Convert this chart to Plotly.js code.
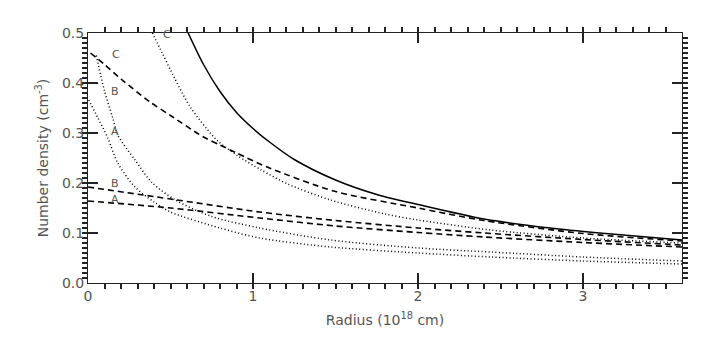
<!DOCTYPE html>
<html>
<head>
<meta charset="utf-8">
<script src="https://cdn.plot.ly/plotly-3.0.1.min.js"></script>
<style>html,body{margin:0;padding:0;background:#fff;}#chart{width:708px;height:340px;}</style>
</head>
<body>
<div id="chart"></div>
<script>
// Solid curve
const solidX = [0.6, 0.7, 0.8, 0.9, 1.0, 1.1, 1.25, 1.5, 1.75, 2.0, 2.4, 2.8, 3.1, 3.6];
const solidY = [0.505, 0.437, 0.383, 0.341, 0.309, 0.282, 0.247, 0.206, 0.177, 0.157, 0.128, 0.11, 0.1, 0.086];

// Dotted curves
const dotCX = [0.39, 0.45, 0.5, 0.62, 0.78, 0.9, 1.05, 1.21, 1.47, 1.8, 2.0, 2.44, 3.0, 3.6];
const dotCY = [0.5, 0.46, 0.426, 0.352, 0.286, 0.256, 0.226, 0.198, 0.166, 0.138, 0.126, 0.106, 0.09, 0.08];

const dotBX = [0.05, 0.1, 0.15, 0.18, 0.285, 0.39, 0.53, 0.75, 1.04, 1.47, 2.0, 2.44, 3.0, 3.6];
const dotBY = [0.455, 0.384, 0.33, 0.296, 0.246, 0.2, 0.166, 0.133, 0.11, 0.086, 0.07, 0.062, 0.052, 0.044];

const dotAX = [0.005, 0.06, 0.12, 0.18, 0.285, 0.4, 0.5, 0.8, 1.04, 1.47, 2.0, 2.44, 3.0, 3.6];
const dotAY = [0.366, 0.33, 0.29, 0.24, 0.192, 0.162, 0.142, 0.11, 0.09, 0.072, 0.06, 0.052, 0.044, 0.038];

// Dashed curves
const dashCX = [0.015, 0.1, 0.2, 0.376, 0.5, 0.7, 0.8, 0.9, 1.1, 1.5, 2.0, 2.4, 3.0, 3.6];
const dashCY = [0.46, 0.437, 0.408, 0.362, 0.335, 0.292, 0.276, 0.26, 0.23, 0.183, 0.15, 0.125, 0.099, 0.084];

const dashBX = [0.0, 0.5, 1.04, 1.5, 2.0, 2.4, 3.0, 3.6];
const dashBY = [0.192, 0.168, 0.142, 0.125, 0.11, 0.1, 0.087, 0.076];

const dashAX = [0.0, 0.5, 1.04, 1.5, 2.0, 2.4, 3.0, 3.6];
const dashAY = [0.164, 0.15, 0.13, 0.114, 0.101, 0.092, 0.081, 0.072];

// Curve labels
const labelText = ["C", "C", "B", "A", "B", "A"];
const labelX = [0.445, 0.135, 0.13, 0.125, 0.13, 0.13];
const labelY = [0.497, 0.458, 0.384, 0.304, 0.2, 0.168];

const black = "#000";
function tr(x, y, dash, w) {
  return {x: x, y: y, type: "scatter", mode: "lines", line: {color: black, width: w, dash: dash, shape: "spline", smoothing: 0.8}, showlegend: false};
}
const data = [
  tr(solidX, solidY, "solid", 1.5),
  tr(dotCX, dotCY, "1px,2.5px", 1.5),
  tr(dotBX, dotBY, "1px,2.5px", 1.5),
  tr(dotAX, dotAY, "1px,2.5px", 1.5),
  tr(dashCX, dashCY, "6px,4px", 1.6),
  tr(dashBX, dashBY, "6px,4px", 1.6),
  tr(dashAX, dashAY, "6px,4px", 1.6)
];

const annotations = labelText.map((t, i) => ({
  x: labelX[i], y: labelY[i], xref: "x", yref: "y", text: t, showarrow: false,
  xanchor: "left", yanchor: "middle",
  font: {family: "DejaVu Sans", size: 11, color: "#555"}
}));

const tickFont = {family: "DejaVu Sans", size: 14, color: "#555"};

const layout = {
  width: 708, height: 340,
  margin: {l: 88, r: 26, t: 33, b: 57},
  showlegend: false,
  xaxis: {
    range: [0, 3.6], showgrid: false, showline: true, linecolor: "#222",
    mirror: "ticks", ticks: "inside", ticklen: 10, tickwidth: 1.5, tickcolor: "#222",
    dtick: 1, tickfont: tickFont,
    minor: {dtick: 0.1, ticklen: 5, tickcolor: "#222"},
    title: {text: "Radius (10<sup>18</sup> cm)", standoff: 12, font: tickFont}
  },
  yaxis: {
    range: [0, 0.5], showgrid: false, showline: true, linecolor: "#222",
    mirror: "ticks", ticks: "inside", ticklen: 10, tickwidth: 1.5, tickcolor: "#222",
    dtick: 0.1, tickformat: ".1f", tickfont: tickFont,
    minor: {dtick: 0.01, ticklen: 5, tickcolor: "#222"},
    title: {text: "Number density (cm<sup>-3</sup>)", standoff: 10, font: tickFont}
  },
  annotations: annotations
};

Plotly.newPlot("chart", data, layout, {displayModeBar: false});
</script>
</body>
</html>
